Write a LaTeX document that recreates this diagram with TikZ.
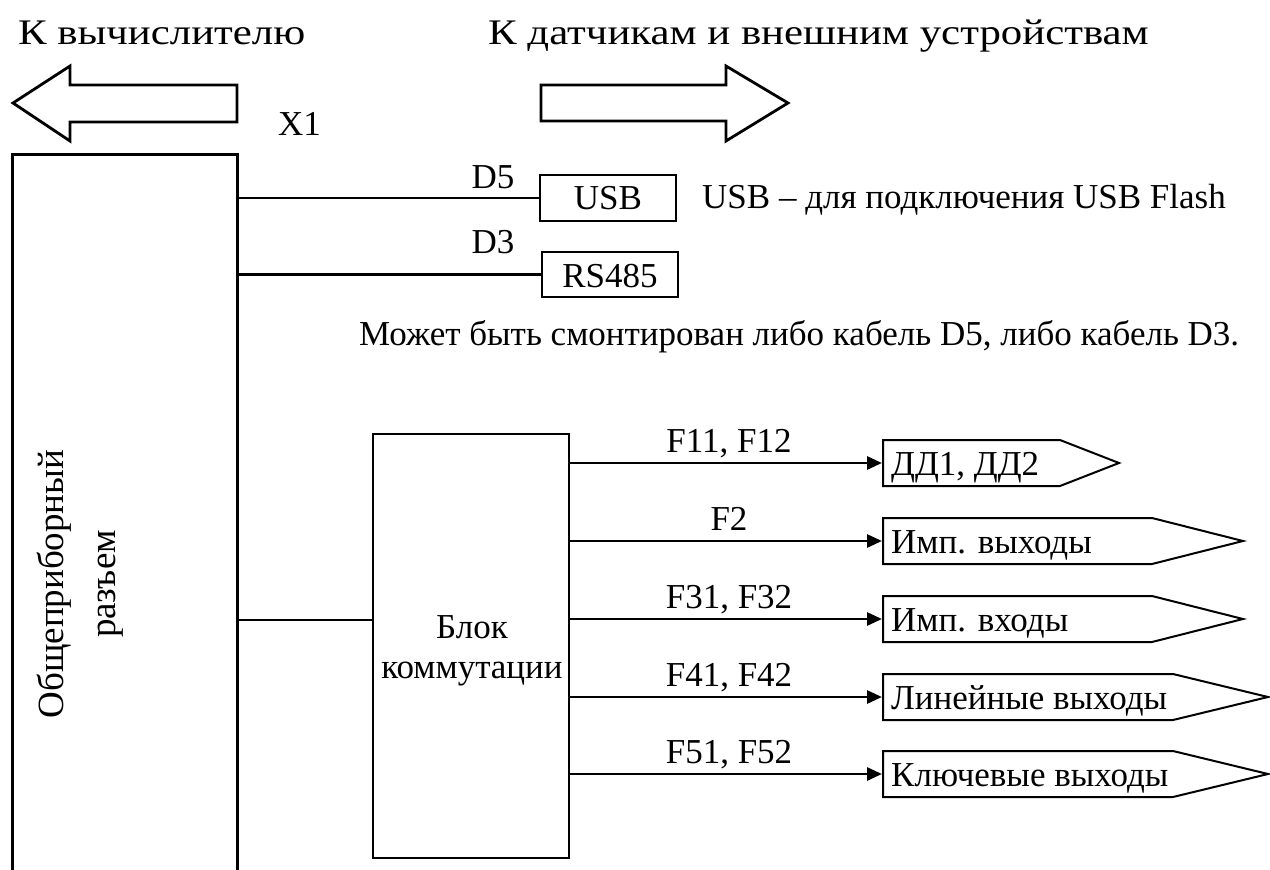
\documentclass[tikz,border=0pt]{standalone}
\usepackage{fontspec}
\setmainfont{Liberation Serif}
\newfontfamily\titlefont[FakeStretch=1.19]{Liberation Serif}
\usetikzlibrary{arrows.meta}
\begin{document}
\begin{tikzpicture}[x=1pt,y=-1pt,
  thick line/.style={line width=2.8pt},
  boxed/.style={draw, line width=2.8pt, inner sep=0pt},
  penta/.style={draw, line width=2pt, fill=white, line join=miter},
  arr/.style={line width=2.8pt, -{Triangle[length=15pt,width=13pt]}},
  body/.style={font=\fontsize{35}{40}\selectfont, inner sep=0pt},
  title/.style={font=\titlefont\fontsize{36}{44}\selectfont, inner sep=0pt},
  bigarrow/.style={draw, line width=2.8pt, line join=miter}]
\useasboundingbox[fill=white] (0,0) rectangle (1270,870);

% titles
\node[title, anchor=base west] (t1) at (18,45) {К вычислителю};
\node[title, anchor=base west] (t2) at (488,45) {К датчикам и внешним устройствам};

% hollow arrows
\draw[bigarrow] (13,103) -- (70,66) -- (70,85) -- (237,85) -- (237,122) -- (70,122) -- (70,141) -- cycle;
\draw[bigarrow] (788,103) -- (726,66) -- (726,85) -- (541,85) -- (541,121) -- (726,121) -- (726,141) -- cycle;

\node[body, anchor=base west] (x1) at (278,135) {X1};

% connector box (open at the bottom)
\node[boxed, anchor=north west, minimum width=225pt, minimum height=760pt] (conn) at (11,153) {};
\node[rotate=90, align=center, inner sep=0pt, font=\fontsize{37}{52}\selectfont] (connlbl) at (80,584) {Общеприборный\\разъем};

% USB and RS485
\node[boxed, minimum width=136pt, minimum height=46pt] (usb) at (608,198) {};
\node[body, anchor=base] (usbt) at (608,209) {USB};
\node[boxed, minimum width=136pt, minimum height=45pt] (rs) at (610,274.5) {};
\node[body, anchor=base] (rst) at (610,287) {RS485};
\draw[thick line] (conn.east |- usb.west) -- (usb.west);
\draw[thick line] (conn.east |- rs.west) -- (rs.west);
\node[body, anchor=base] (d5) at (493,188) {D5};
\node[body, anchor=base] (d3) at (493,253) {D3};
\node[body, anchor=base west] (usbnote) at (702,208) {USB – для подключения USB Flash};
\node[body, anchor=base west] (note) at (359,345) {Может быть смонтирован либо кабель D5, либо кабель D3.};

% switching block
\node[boxed, minimum width=196pt, minimum height=424pt] (blk) at (471,646) {};
\node[body, align=center, anchor=base, font=\fontsize{35}{40}\selectfont] (blklbl) at (472,678) {Блок\\коммутации};
\coordinate (cj) at (373,620);
\draw[thick line] (conn.east |- cj) -- (cj);

% outputs
\foreach \i/\y/\lab/\txt/\e/\t in {
  1/463/{F11, F12}/{ДД1, ДД2}/1060/1119,
  2/541/{F2}/{Имп. выходы}/1152/1243,
  3/619/{F31, F32}/{Имп. входы}/1152/1243,
  4/697/{F41, F42}/{Линейные выходы}/1173/1268,
  5/774/{F51, F52}/{Ключевые выходы}/1173/1268}{
  \draw[penta] (883,\y-23) -- (\e,\y-23) -- (\t,\y) -- (\e,\y+23) -- (883,\y+23) -- cycle;
  \coordinate (o\i) at (882,\y);
  \node[body, anchor=base west] (out\i) at (891,\y+12) {\txt};
  \draw[arr] (blk.east |- o\i) -- (o\i);
  \node[body, anchor=base] (f\i) at (729,\y-11) {\lab};
}
\end{tikzpicture}
\end{document}
